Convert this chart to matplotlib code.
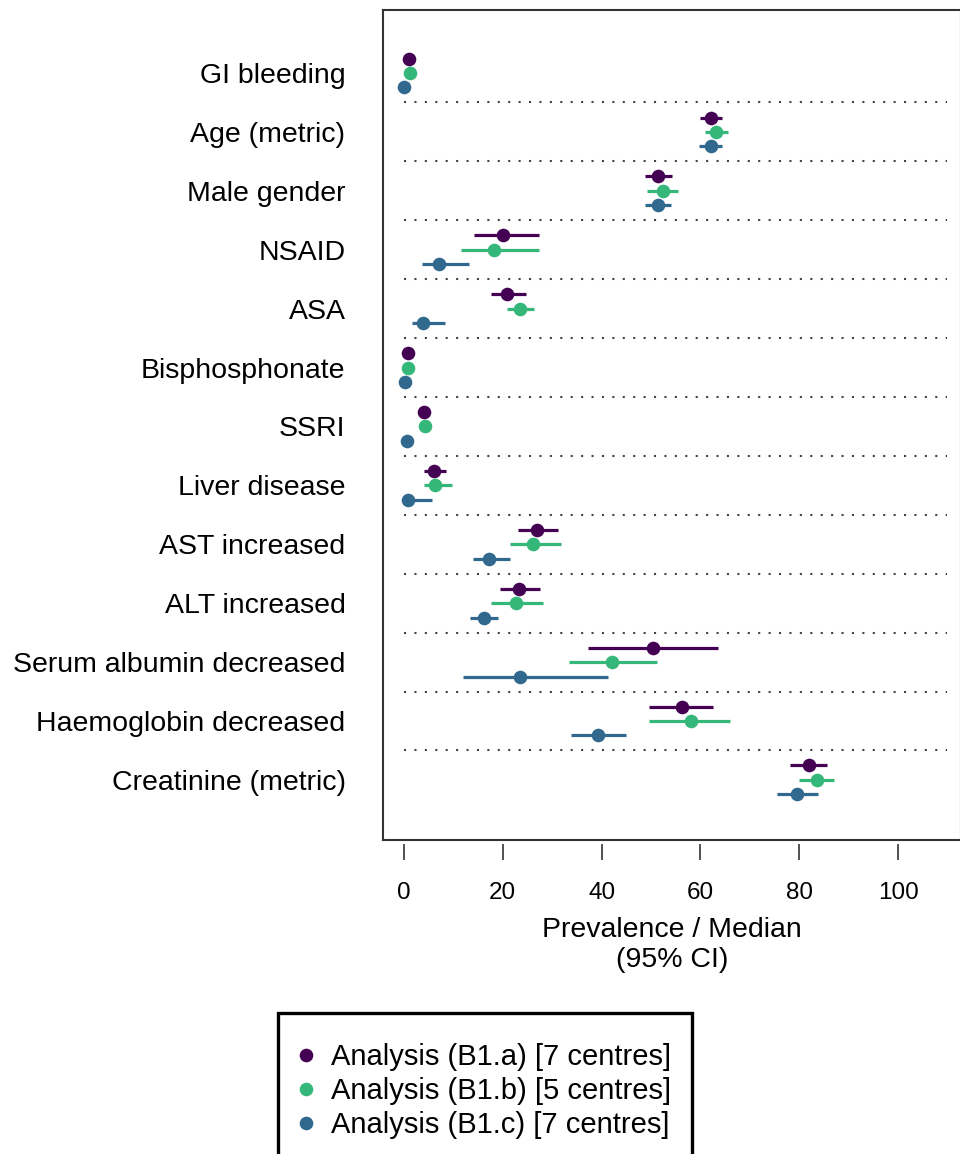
import numpy as np
import matplotlib.pyplot as plt

plt.rcParams['font.family'] = ['Liberation Sans', 'DejaVu Sans']

variables = ["GI bleeding", "Age (metric)", "Male gender", "NSAID", "ASA",
             "Bisphosphonate", "SSRI", "Liver disease", "AST increased",
             "ALT increased", "Serum albumin decreased",
             "Haemoglobin decreased", "Creatinine (metric)"]
series = ["Analysis (B1.a) [7 centres]",
          "Analysis (B1.b) [5 centres]",
          "Analysis (B1.c) [7 centres]"]
colors = ['#440154', '#35b779', '#31688e']

est_a = [1.0, 62.1, 51.4, 20.0, 20.9, 0.8, 4.0, 6.0, 26.9, 23.2, 50.5, 56.2, 81.9]
lo_a = [0.6, 60.0, 48.8, 14.1, 17.6, 0.6, 3.4, 4.1, 23.1, 19.4, 37.3, 49.5, 78.1]
hi_a = [1.4, 64.4, 54.3, 27.3, 24.7, 1.0, 4.6, 8.5, 31.1, 27.5, 63.5, 62.6, 85.7]

est_b = [1.2, 63.2, 52.4, 18.2, 23.5, 0.9, 4.3, 6.3, 26.2, 22.6, 42.1, 58.0, 83.5]
lo_b = [0.8, 61.0, 49.2, 11.6, 20.9, 0.6, 3.6, 4.0, 21.4, 17.6, 33.3, 49.5, 79.9]
hi_b = [1.6, 65.6, 55.5, 27.3, 26.3, 1.2, 5.0, 9.7, 31.7, 28.2, 51.3, 66.0, 87.1]

est_c = [0.1, 62.1, 51.4, 7.1, 3.8, 0.2, 0.6, 0.8, 17.3, 16.1, 23.5, 39.3, 79.6]
lo_c = [0.0, 59.7, 48.8, 3.6, 1.7, 0.0, 0.2, 0.1, 13.9, 13.4, 11.9, 33.9, 75.5]
hi_c = [0.3, 64.4, 54.0, 13.1, 8.3, 0.5, 1.2, 5.6, 21.5, 19.0, 41.2, 44.9, 83.8]

ests = [est_a, est_b, est_c]
los = [lo_a, lo_b, lo_c]
his = [hi_a, hi_b, hi_c]
xticks = [0, 20, 40, 60, 80, 100]

fig = plt.figure(figsize=(9.6, 11.54), dpi=100)
ax = fig.add_axes([383 / 960, 1 - 840 / 1154, 578 / 960, 830 / 1154])

n = len(variables)
rows = np.arange(n)[::-1]          # top row = first variable
offsets = [0.245, 0.0, -0.245]

# separators between rows
ax.hlines(rows[:-1] - 0.5, 0, 110, colors='#444444', lw=1.5,
          linestyles=(0, (1, 4)))

handles = []
for k in range(3):
    y = rows + offsets[k]
    ax.hlines(y, los[k], his[k], colors=colors[k], lw=2.3)
    h, = ax.plot(ests[k], y, 'o', color=colors[k], ms=9.8, mec='none',
                 label=series[k])
    handles.append(h)

ax.set_xlim(-4.25, 112.75)
ax.set_ylim(-1.02, n - 1 + 1.07)
ax.set_yticks(rows)
ax.set_yticklabels(variables, fontsize=20.5)
ax.tick_params(axis='y', length=0, pad=27)
ax.tick_params(axis='x', bottom=False, labelbottom=False)
for s in ax.spines.values():
    s.set_linewidth(1.5)
    s.set_color('#333333')

sec = ax.secondary_xaxis(-4 / 830)
sec.spines['bottom'].set_visible(False)
sec.set_xticks(xticks)
sec.tick_params(axis='x', length=11.5, width=1.2, color='#333333',
                labelsize=17.5, pad=16)

fig.text(672 / 960, 1 - 945 / 1154, "Prevalence / Median\n(95% CI)",
         ha='center', va='center', fontsize=20.5, linespacing=1.2)

# blank tiny title pushes the entries down inside the box
leg = fig.legend(handles=handles, loc='upper center',
                 bbox_to_anchor=(485 / 960, 1 - 1013 / 1154),
                 fontsize=21, frameon=True, fancybox=False, framealpha=1,
                 handlelength=0.5, handletextpad=0.6, labelspacing=0.2,
                 borderpad=0.7, borderaxespad=0, markerscale=1.0,
                 title=' ', title_fontsize=3)
leg.get_frame().set_edgecolor('black')
leg.get_frame().set_linewidth(2.4)

fig.savefig('out.png', dpi=100)
